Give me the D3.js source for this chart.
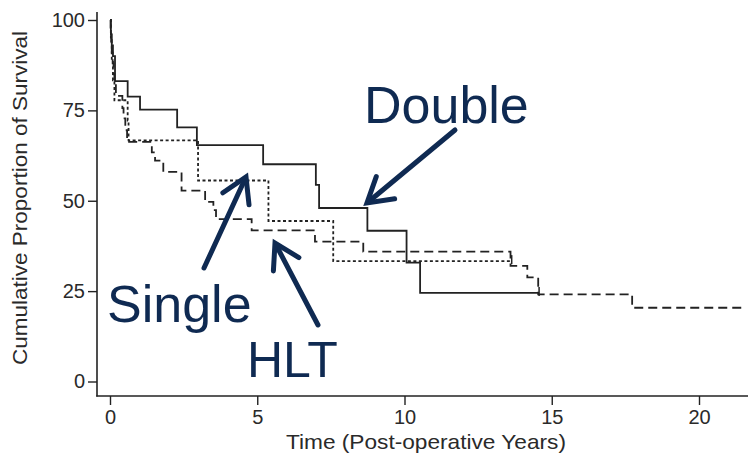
<!DOCTYPE html>
<html>
<head>
<meta charset="utf-8">
<script src="https://cdn.jsdelivr.net/npm/d3@7"></script>
<style>
  html, body { margin: 0; padding: 0; background: #fff; }
  svg { display: block; }
  .tick text { font-family: "Liberation Sans", Arial, sans-serif; fill: #2a2a2a; }
</style>
</head>
<body>
<svg id="chart" width="748" height="459"></svg>
<script>
// Kaplan-Meier survival after lung transplantation, by procedure type
const doubleTime = [0, 0.03, 0.06, 0.1, 0.17, 0.6, 1.02, 2.28, 2.95, 5.2, 6.99, 7.1, 8.74, 10.07, 10.53, 14.57];
const doubleSurv = [100, 96, 93, 90, 83.1, 78.8, 75.2, 70.3, 65.4, 60.1, 54.4, 48.0, 41.7, 32.9, 24.5, 24.5];

const singleTime = [0, 0.03, 0.06, 0.1, 0.15, 0.6, 0.63, 2.99, 5.38, 7.58, 13.64];
const singleSurv = [100, 94.4, 88.9, 83.3, 77.8, 72.2, 66.7, 55.6, 44.4, 33.3, 33.3];

const hltTime = [0, 0.02, 0.04, 0.06, 0.09, 0.12, 0.15, 0.2, 0.42, 0.46, 0.52, 0.58, 1.42, 1.53, 1.81, 2.43, 3.23, 3.51, 3.6, 4.81, 6.96, 8.6, 13.6, 14.17, 14.54, 17.73, 21.56];
const hltSurv = [100, 97, 94, 91, 88, 85, 82, 79, 75.6, 72.8, 69.5, 66.3, 63.4, 61.1, 58.0, 52.8, 49.7, 47.4, 44.9, 41.8, 38.7, 35.9, 32.0, 28.8, 24.1, 20.4, 20.4];

// censored observations (time, survival)
const doubleCensorTime = [14.57];
const doubleCensorSurv = [24.5];
const singleCensorTime = [13.64];
const singleCensorSurv = [33.3];

const xTicks = [0, 5, 10, 15, 20];
const yTicks = [0, 25, 50, 75, 100];

const seriesNames = ["Double", "Single", "HLT"];
const xTitle = "Time (Post-operative Years)";
const yTitle = "Cumulative Proportion of Survival";

const svg = d3.select("#chart");
const x = d3.scaleLinear().domain([0, 20]).range([110, 699]);
const y = d3.scaleLinear().domain([0, 100]).range([381.5, 20]);

const ink = "#222";
const navy = "#0f2a52";

// plot frame: left and bottom lines
svg.append("line").attr("x1", 97).attr("x2", 97).attr("y1", 12).attr("y2", 396.5)
  .attr("stroke", ink).attr("stroke-width", 1.6);
svg.append("line").attr("x1", 96.2).attr("x2", 748).attr("y1", 396).attr("y2", 396)
  .attr("stroke", ink).attr("stroke-width", 1.6);

// y axis
const yAxis = svg.append("g").attr("transform", "translate(97,0)")
  .call(d3.axisLeft(y).tickValues(yTicks).tickSize(9).tickPadding(3).tickSizeOuter(0));
yAxis.select(".domain").remove();
yAxis.selectAll(".tick line").attr("stroke", ink).attr("stroke-width", 1.4);
yAxis.selectAll(".tick text").attr("font-size", 20);

// x axis
const xAxis = svg.append("g").attr("transform", "translate(0,396)")
  .call(d3.axisBottom(x).tickValues(xTicks).tickSize(9).tickPadding(5).tickSizeOuter(0));
xAxis.select(".domain").remove();
xAxis.selectAll(".tick line").attr("stroke", ink).attr("stroke-width", 1.4);
xAxis.selectAll(".tick text").attr("font-size", 20);

// axis titles
svg.append("text").attr("x", 426).attr("y", 449).attr("text-anchor", "middle")
  .attr("font-family", "Liberation Sans, Arial, sans-serif").attr("font-size", 21)
  .attr("fill", "#2a2a2a").attr("textLength", 280).attr("lengthAdjust", "spacingAndGlyphs")
  .text(xTitle);
svg.append("text").attr("transform", "translate(27,198) rotate(-90)").attr("text-anchor", "middle")
  .attr("font-family", "Liberation Sans, Arial, sans-serif").attr("font-size", 21)
  .attr("fill", "#2a2a2a").attr("textLength", 334).attr("lengthAdjust", "spacingAndGlyphs")
  .text(yTitle);

// survival curves
const step = d3.line().x(d => x(d[0])).y(d => y(d[1])).curve(d3.curveStepAfter);
const zip = (t, s) => t.map((v, i) => [v, s[i]]);

const curves = [
  { data: zip(doubleTime, doubleSurv), dash: null, width: 1.8 },
  { data: zip(singleTime, singleSurv), dash: "3,2.5", width: 1.8 },
  { data: zip(hltTime, hltSurv), dash: "9,5", width: 1.8 }
];
curves.forEach(c => {
  svg.append("path").datum(c.data).attr("d", step)
    .attr("fill", "none").attr("stroke", ink).attr("stroke-width", c.width)
    .attr("stroke-dasharray", c.dash);
});

// censor marks
const censors = zip(doubleCensorTime, doubleCensorSurv).concat(zip(singleCensorTime, singleCensorSurv));
svg.selectAll(".censor").data(censors).join("line").attr("class", "censor")
  .attr("x1", d => x(d[0])).attr("x2", d => x(d[0]))
  .attr("y1", d => y(d[1]) - 6).attr("y2", d => y(d[1]) + 3)
  .attr("stroke", ink).attr("stroke-width", 1.5);

// annotations with arrows
const arrowDefs = [
  { from: [455, 130], to: [367, 203] },
  { from: [204, 268], to: [246, 177] },
  { from: [318, 325], to: [275, 243] }
];
arrowDefs.forEach(a => {
  const dx = a.to[0] - a.from[0], dy = a.to[1] - a.from[1];
  const len = Math.hypot(dx, dy), ux = dx / len, uy = dy / len;
  const head = 24, spread = 0.6;
  const back = [a.to[0] - ux * head, a.to[1] - uy * head];
  const px = -uy, py = ux;
  const w = head * spread;
  svg.append("line").attr("x1", a.from[0]).attr("y1", a.from[1])
    .attr("x2", a.to[0] - ux * 2).attr("y2", a.to[1] - uy * 2)
    .attr("stroke", navy).attr("stroke-width", 5).attr("stroke-linecap", "round");
  svg.append("path")
    .attr("d", `M${back[0] + px * w},${back[1] + py * w}L${a.to[0]},${a.to[1]}L${back[0] - px * w},${back[1] - py * w}`)
    .attr("fill", "none").attr("stroke", navy).attr("stroke-width", 5)
    .attr("stroke-linecap", "round").attr("stroke-linejoin", "miter");
});

const labels = [
  { text: seriesNames[0], x: 364, y: 123, size: 52 },
  { text: seriesNames[1], x: 107, y: 322, size: 52 },
  { text: seriesNames[2], x: 247, y: 377, size: 50 }
];
svg.selectAll(".ann").data(labels).join("text").attr("class", "ann")
  .attr("x", d => d.x).attr("y", d => d.y)
  .attr("font-family", "Liberation Sans, Arial, sans-serif").attr("font-size", d => d.size)
  .attr("fill", navy).text(d => d.text);
</script>
</body>
</html>
